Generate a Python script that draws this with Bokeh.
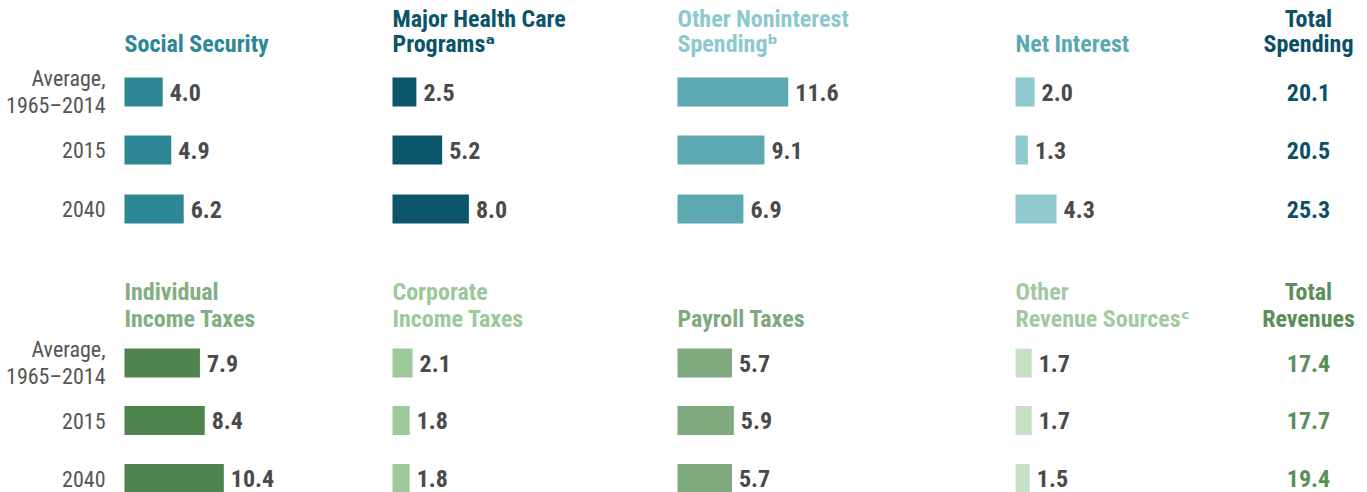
from bokeh.plotting import figure
from bokeh.models import ColumnDataSource, Range1d
from bokeh.transform import dodge
from bokeh.core.properties import value
from bokeh.embed import file_html
from bokeh.resources import INLINE

# ---------------- data ----------------
row_label_lines = ["Average,", "1965\u20132014", "2015", "2040"]
row_label_row = [0, 0, 1, 2]          # which row each label line belongs to
row_label_shift = [-13.5, 13.5, 0, 0]  # line offset (px) within a row

spending_titles = [("", "Social Security"),
                   ("Major Health Care", "Programs\u1d43"),
                   ("Other Noninterest", "Spending\u1d47"),
                   ("", "Net Interest")]
social_security = [4.0, 4.9, 6.2]
major_health = [2.5, 5.2, 8.0]
other_noninterest = [11.6, 9.1, 6.9]
net_interest = [2.0, 1.3, 4.3]
total_spending = [20.1, 20.5, 25.3]

revenue_titles = [("Individual", "Income Taxes"),
                  ("Corporate", "Income Taxes"),
                  ("", "Payroll Taxes"),
                  ("Other", "Revenue Sources\u1d9c")]
individual_income = [7.9, 8.4, 10.4]
corporate_income = [2.1, 1.8, 1.8]
payroll = [5.7, 5.9, 5.7]
other_revenue = [1.7, 1.7, 1.5]
total_revenues = [17.4, 17.7, 19.4]

# ---------------- layout / style ----------------
W, H = 1367, 492
PX_PER_UNIT = 9.55
def ux(page_x):
    return page_x / PX_PER_UNIT

col_left = [ux(124), ux(392), ux(677), ux(1015)]
total_center = ux(1308)
label_right = ux(105)

spend_rows = [91.5, 149.5, 208.5]
rev_rows = [362.5, 420, 478]
spend_title_y = [18, 43.5]
rev_title_y = [291.5, 318.5]
BAR_H = 29

FONT = value("Roboto Condensed, DejaVu Sans Condensed, Roboto")
FS = "24px"
FS_ROW = "22px"
VALUE_COLOR = "#4a4a4a"

spend_bar_colors = ["#2e8794", "#0b566b", "#5ca9b2", "#90c9cf"]
spend_title_colors = ["#2e8794", "#0b5469", "#8dc8cf", "#5aa9b2"]
spend_total_color = "#0b5066"

rev_bar_colors = ["#4e844e", "#9cc89c", "#80a980", "#c6e0c6"]
rev_title_colors = ["#82ae82", "#9cc89c", "#80a980", "#a3c9a3"]
rev_total_color = "#5a8f5a"

p = figure(width=W, height=H, x_range=Range1d(0, W / PX_PER_UNIT),
           y_range=Range1d(H, 0), output_backend="svg",
           toolbar_location=None, x_axis_location=None, y_axis_location=None,
           min_border=0)
p.grid.visible = False
p.outline_line_color = None
p.background_fill_color = "white"
p.border_fill_color = "white"


def section(rows_y, title_y, titles, series, bar_colors, title_colors,
            totals, total_title, total_color):
    # row labels
    lsrc = ColumnDataSource(dict(y=[rows_y[r] for r in row_label_row],
                                 dy=row_label_shift, t=row_label_lines))
    p.text(x=label_right, y="y", y_offset="dy", text="t", source=lsrc,
           text_align="right", text_baseline="middle", text_font=FONT,
           text_font_size=FS_ROW, text_color="#555555")
    for off, vals, bc, (t1, t2), tc in zip(col_left, series, bar_colors, titles, title_colors):
        src = ColumnDataSource(dict(y=rows_y, v=vals, lbl=[f"{v:.1f}" for v in vals]))
        p.hbar(y="y", left=off, right=dodge("v", off), height=BAR_H, source=src,
               fill_color=bc, line_color=None)
        p.text(x=dodge("v", off), y="y", text="lbl", source=src, x_offset=7,
               text_baseline="middle", text_font=FONT, text_font_size=FS,
               text_font_style="bold", text_color=VALUE_COLOR)
        p.text(x=[off, off], y=title_y, text=[t1, t2], text_baseline="middle",
               text_font=FONT, text_font_size=FS, text_font_style="bold",
               text_color=tc)
    tsrc = ColumnDataSource(dict(y=rows_y, lbl=[f"{v:.1f}" for v in totals]))
    p.text(x=total_center, y="y", text="lbl", source=tsrc, text_align="center",
           text_baseline="middle", text_font=FONT, text_font_size=FS,
           text_font_style="bold", text_color=total_color)
    p.text(x=[total_center] * 2, y=title_y, text=list(total_title), text_align="center",
           text_baseline="middle", text_font=FONT, text_font_size=FS,
           text_font_style="bold", text_color=total_color)


section(spend_rows, spend_title_y, spending_titles,
        [social_security, major_health, other_noninterest, net_interest],
        spend_bar_colors, spend_title_colors, total_spending,
        ("Total", "Spending"), spend_total_color)
section(rev_rows, rev_title_y, revenue_titles,
        [individual_income, corporate_income, payroll, other_revenue],
        rev_bar_colors, rev_title_colors, total_revenues,
        ("Total", "Revenues"), rev_total_color)

open("out.html", "w").write(file_html(p, INLINE))
